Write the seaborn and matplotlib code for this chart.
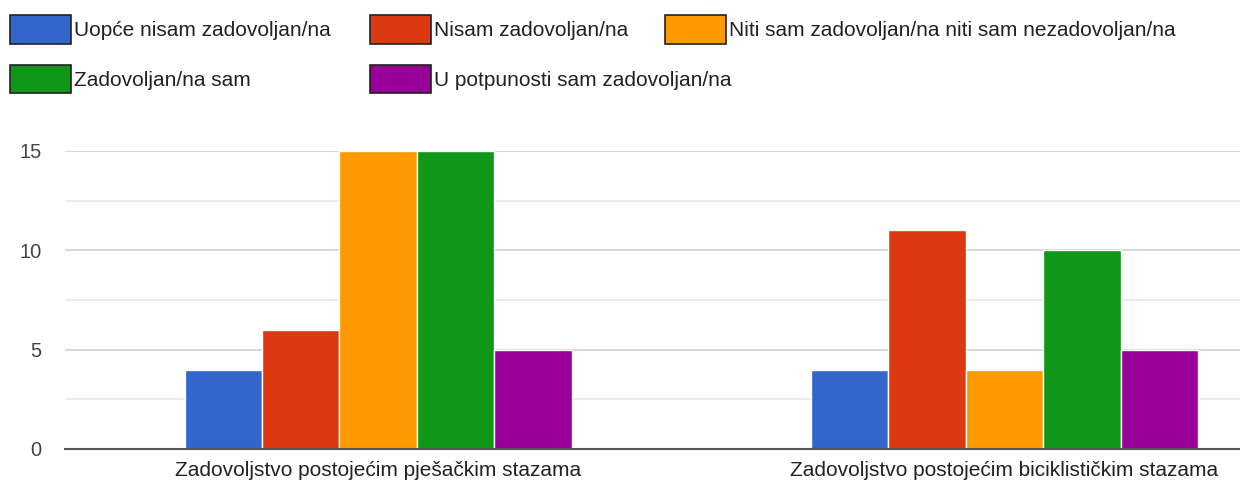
import pandas as pd
import matplotlib.pyplot as plt
import seaborn as sns
from matplotlib.patches import Patch
from matplotlib.ticker import MultipleLocator

categories = ["Zadovoljstvo postojećim pješačkim stazama",
              "Zadovoljstvo postojećim biciklističkim stazama"]
answers = ["Uopće nisam zadovoljan/na",
           "Nisam zadovoljan/na",
           "Niti sam zadovoljan/na niti sam nezadovoljan/na",
           "Zadovoljan/na sam",
           "U potpunosti sam zadovoljan/na"]
pjesacke = [4, 6, 15, 15, 5]
biciklisticke = [4, 11, 4, 10, 5]
colors = ["#3366CC", "#DC3912", "#FF9900", "#109618", "#990099"]

df = pd.DataFrame({
    "kategorija": [categories[0]] * 5 + [categories[1]] * 5,
    "odgovor": answers * 2,
    "broj": pjesacke + biciklisticke,
})

sns.set_style("white")
plt.rcParams['font.family'] = ['Liberation Sans', 'DejaVu Sans']

W, H = 1240, 484
fig = plt.figure(figsize=(W / 100, H / 100), dpi=100)
ax = fig.add_axes([65 / W, 35 / H, (W - 65) / W, 298 / H])

sns.barplot(data=df, x="kategorija", y="broj", hue="odgovor", hue_order=answers,
            palette=colors, width=0.618, edgecolor="white", linewidth=1,
            saturation=1, legend=False, ax=ax, zorder=3)

ax.set_xlim(-0.5, 1.376)
ax.set_ylim(0, 15)
ax.yaxis.set_major_locator(MultipleLocator(5))
ax.yaxis.set_minor_locator(MultipleLocator(2.5))
ax.grid(axis="y", which="major", color="#d4d4d4", linewidth=1.3, zorder=0)
ax.grid(axis="y", which="minor", color="#ececec", linewidth=1.3, zorder=0)
ax.set_axisbelow(True)
for s in ["top", "right", "left"]:
    ax.spines[s].set_visible(False)
ax.spines["bottom"].set_color("#555555")
ax.spines["bottom"].set_linewidth(1.5)
ax.spines["bottom"].set_zorder(5)
ax.tick_params(axis="y", which="both", length=0, pad=17, labelsize=14.5, labelcolor="#444444")
ax.tick_params(axis="x", length=0, pad=9, labelsize=15, labelcolor="#222222")
ax.set_xlabel("")
ax.set_ylabel("")

handles = [Patch(facecolor=c, edgecolor="#222222", linewidth=1.2, label=a)
           for c, a in zip(colors, answers)]
legend_kw = dict(loc="upper left", frameon=False, borderpad=0, borderaxespad=0,
                 handlelength=2.93, handleheight=1.75, handletextpad=0.12,
                 labelspacing=1.0, fontsize=15, labelcolor="#222222")
fig.legend(handles=[handles[0], handles[3]], bbox_to_anchor=(10 / W, 1 - 15 / H), **legend_kw)
fig.legend(handles=[handles[1], handles[4]], bbox_to_anchor=(370 / W, 1 - 15 / H), **legend_kw)
fig.legend(handles=[handles[2]], bbox_to_anchor=(665 / W, 1 - 15 / H), **legend_kw)

fig.savefig("out.png", dpi=100)
